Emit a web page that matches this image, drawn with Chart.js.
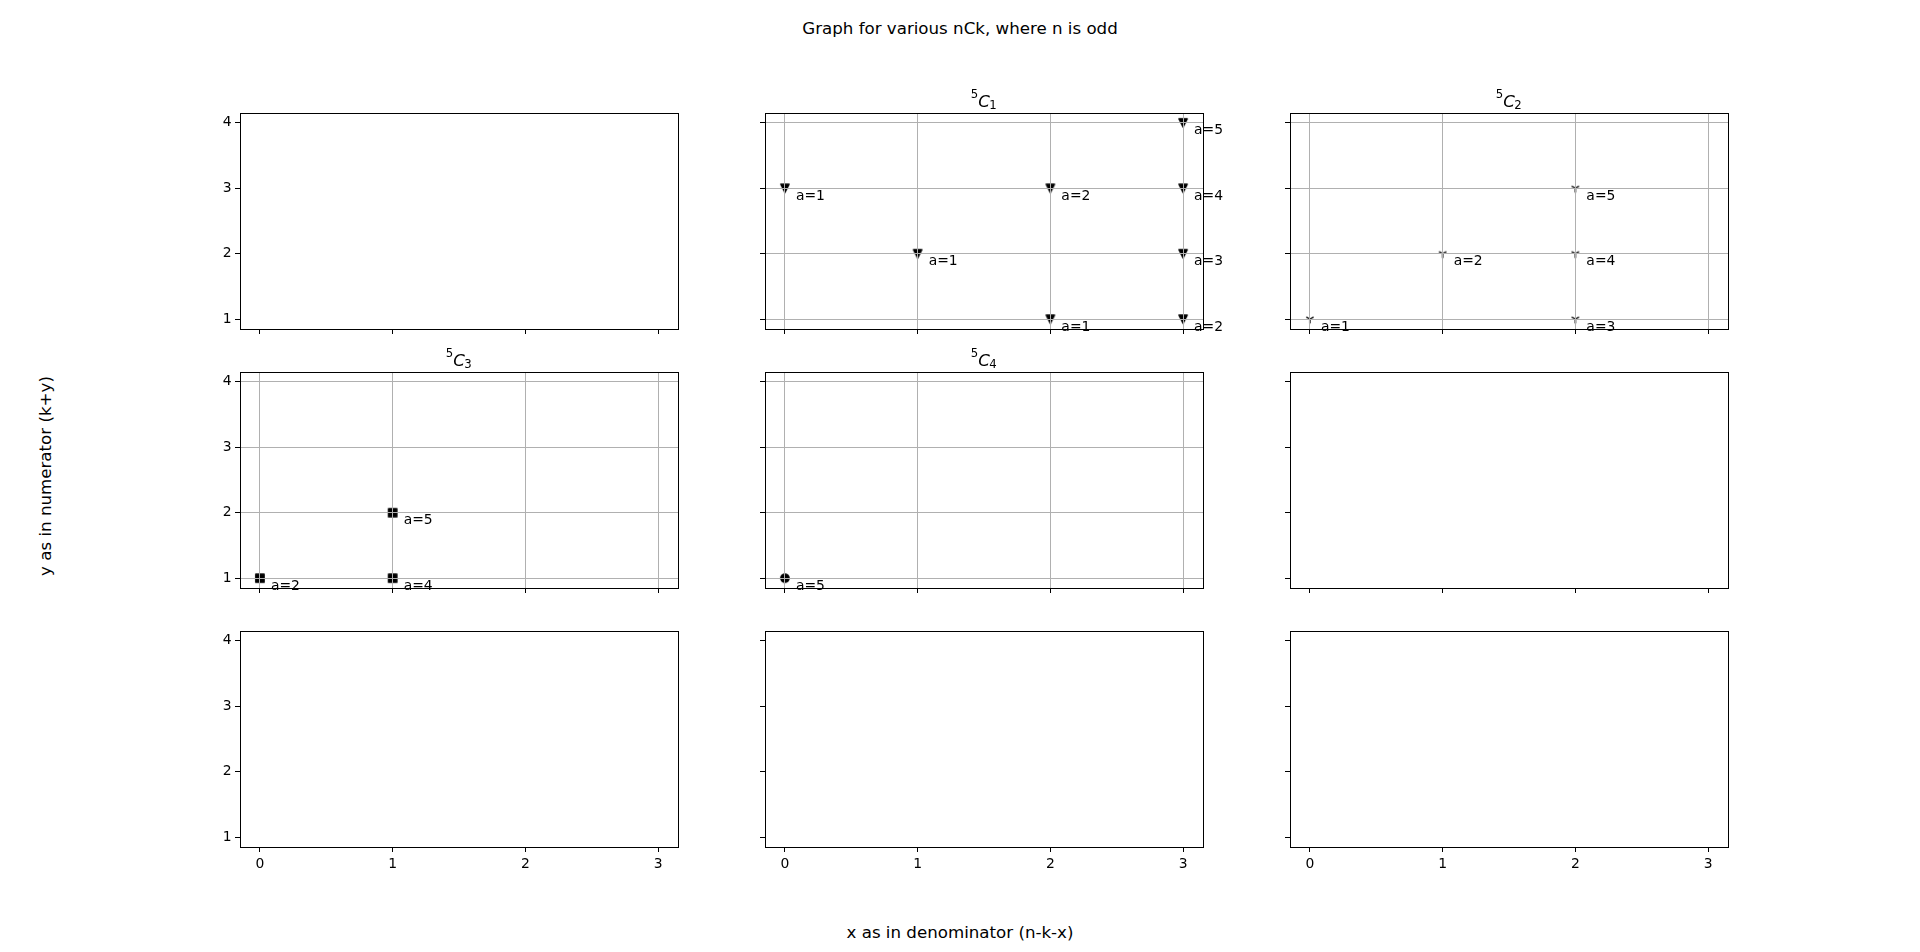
<!DOCTYPE html>
<html><head><meta charset="utf-8">
<script src="https://cdn.jsdelivr.net/npm/chart.js@4.4.1/dist/chart.umd.min.js"></script>
<style>
html,body{margin:0;padding:0;background:#fff;width:1920px;height:952px;overflow:hidden;position:relative;}
canvas{position:absolute;}
.ft{position:absolute;font-family:'DejaVu Sans';font-size:16.67px;line-height:1;color:#000;white-space:nowrap;}
</style></head><body>
<div class="ft" style="left:960px;top:20.5px;transform:translateX(-50%)">Graph for various nCk, where n is odd</div>
<div class="ft" style="left:960px;top:925px;transform:translateX(-50%)">x as in denominator (n-k-x)</div>
<div class="ft" style="left:45.5px;top:476px;transform:translate(-50%,-50%) rotate(-90deg)">y as in numerator (k+y)</div>
<script>
// ---- data ----
const N = 5;
const xTicks = [0, 1, 2, 3];
const yTicks = [1, 2, 3, 4];
const xRange = [-0.15, 3.15];
const yRange = [0.85, 4.15];
// which k is drawn in each of the 9 panels (row-major); null = empty panel
const panelK = [null, 1, 2, 3, 4, null, null, null, null];
const c1X = [0, 1, 2, 2, 3, 3, 3, 3];
const c1Y = [3, 2, 3, 1, 4, 3, 2, 1];
const c1A = [1, 1, 2, 1, 5, 4, 3, 2];
const c2X = [0, 1, 2, 2, 2];
const c2Y = [1, 2, 3, 2, 1];
const c2A = [1, 2, 5, 4, 3];
const c3X = [0, 1, 1];
const c3Y = [1, 2, 1];
const c3A = [2, 5, 4];
const c4X = [0];
const c4Y = [1];
const c4A = [5];
const markerKinds = {1: 'v', 2: 'tri', 3: 's', 4: 'o'};

const seriesByK = {
  1: {x: c1X, y: c1Y, a: c1A},
  2: {x: c2X, y: c2Y, a: c2A},
  3: {x: c3X, y: c3Y, a: c3A},
  4: {x: c4X, y: c4Y, a: c4A}
};

// ---- layout ----
const colLeft = [240, 765, 1290];
const rowTop = [113, 372, 631];
const PW = 438, PH = 216;
const PADL = 60, PADT = 40, PADR = 40, PADB = 40;
const FAM = "'DejaVu Sans'";

function makeMarker(kind) {
  const c = document.createElement('canvas');
  c.width = 14; c.height = 14;
  const g = c.getContext('2d');
  const s = 4.17;
  g.translate(7, 7);
  g.lineWidth = 1.39; g.strokeStyle = '#000'; g.fillStyle = '#000';
  g.lineJoin = 'round'; g.lineCap = 'butt';
  g.beginPath();
  if (kind === 'v') {
    g.moveTo(-s, -s); g.lineTo(s, -s); g.lineTo(0, s); g.closePath(); g.fill(); g.stroke();
  } else if (kind === 'tri') {
    g.moveTo(0, 0); g.lineTo(0, s);
    g.moveTo(0, 0); g.lineTo(-s * 0.866, -s * 0.5);
    g.moveTo(0, 0); g.lineTo(s * 0.866, -s * 0.5);
    g.stroke();
  } else if (kind === 's') {
    g.rect(-s, -s, 2 * s, 2 * s); g.fill(); g.stroke();
  } else {
    g.arc(0, 0, s, 0, Math.PI * 2); g.fill(); g.stroke();
  }
  return c;
}

function decoPlugin(k, labels) {
  return {
    id: 'deco',
    afterDraw(chart) {
      const ctx = chart.ctx, a = chart.chartArea;
      ctx.save();
      // frame (spines)
      ctx.strokeStyle = '#000'; ctx.lineWidth = 1;
      ctx.strokeRect(Math.round(a.left) + 0.5, Math.round(a.top) + 0.5,
                     Math.round(a.right - a.left), Math.round(a.bottom - a.top));
      ctx.fillStyle = '#000';
      ctx.textBaseline = 'alphabetic';
      ctx.textAlign = 'left';
      if (labels) {
        ctx.font = '13.9px ' + FAM;
        const meta = chart.getDatasetMeta(0);
        meta.data.forEach((el, j) => {
          ctx.fillText('a=' + labels[j], el.x + 11, el.y + 11.5);
        });
      }
      if (k) {
        const fSmall = '11.7px ' + FAM, fIt = 'italic 16.67px ' + FAM;
        ctx.font = fSmall; const w1 = ctx.measureText(String(N)).width;
        const w3 = ctx.measureText(String(k)).width;
        ctx.font = fIt; const w2 = ctx.measureText('C').width;
        const total = w1 + w2 + w3;
        let x = (a.left + a.right) / 2 - total / 2;
        ctx.font = fSmall; ctx.fillText(String(N), x, a.top - 15); x += w1;
        ctx.font = fIt; ctx.fillText('C', x, a.top - 6.5); x += w2 - 0.5;
        ctx.font = fSmall; ctx.fillText(String(k), x, a.top - 4.5);
      }
      ctx.restore();
    }
  };
}

for (let i = 0; i < 9; i++) {
  const r = Math.floor(i / 3), c = i % 3;
  const cv = document.createElement('canvas');
  cv.width = PADL + PW + PADR; cv.height = PADT + PH + PADB;
  cv.style.left = (colLeft[c] - PADL) + 'px';
  cv.style.top = (rowTop[r] - PADT) + 'px';
  document.body.appendChild(cv);
  const k = panelK[i];
  const s = k ? seriesByK[k] : null;
  const hasData = !!s;
  const datasets = hasData ? [{
    data: s.x.map((x, j) => ({x: x, y: s.y[j]})),
    pointStyle: makeMarker(markerKinds[k]),
    pointRadius: 5,
    showLine: false
  }] : [];
  const gridOpts = {
    display: true, drawOnChartArea: hasData, color: '#b0b0b0', lineWidth: 1,
    drawTicks: true, tickLength: 5, tickColor: '#000', tickWidth: 1,
    z: hasData ? 1 : -1
  };
  new Chart(cv, {
    type: 'scatter',
    data: {datasets: datasets},
    options: {
      responsive: false, animation: false, devicePixelRatio: 1, events: [],
      layout: {padding: {left: 0, top: PADT, right: PADR, bottom: 0}},
      plugins: {legend: {display: false}, tooltip: {enabled: false}, title: {display: false}},
      scales: {
        x: {
          type: 'linear', min: xRange[0], max: xRange[1], z: hasData ? 1 : 0,
          afterBuildTicks: sc => { sc.ticks = xTicks.map(v => ({value: v})); },
          afterFit: sc => { sc.height = PADB; },
          grid: gridOpts,
          border: {display: false},
          ticks: {display: r === 2, padding: 4.5, color: '#000', font: {family: FAM, size: 13.9},
                  maxRotation: 0, autoSkip: false}
        },
        y: {
          type: 'linear', min: yRange[0], max: yRange[1], z: hasData ? 1 : 0,
          afterBuildTicks: sc => { sc.ticks = yTicks.map(v => ({value: v})); },
          afterFit: sc => { sc.width = PADL; },
          grid: gridOpts,
          border: {display: false},
          ticks: {display: c === 0, padding: 3.5, color: '#000', font: {family: FAM, size: 13.9},
                  autoSkip: false}
        }
      }
    },
    plugins: [decoPlugin(k, hasData ? s.a : null)]
  });
}
</script>
</body></html>
